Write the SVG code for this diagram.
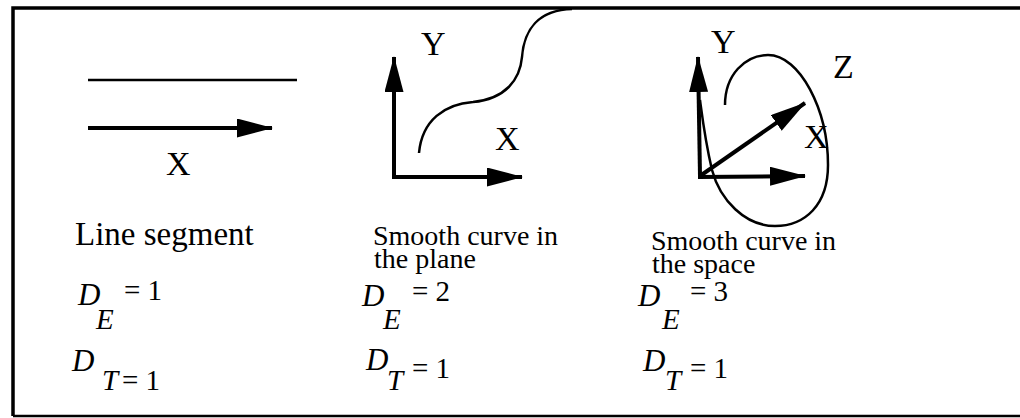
<svg xmlns="http://www.w3.org/2000/svg" width="1020" height="418" viewBox="0 0 1020 418">
<defs>
<marker id="ah" markerUnits="userSpaceOnUse" markerWidth="36" markerHeight="20" refX="35" refY="9.5" orient="auto">
<path d="M0,0 L36,9.5 L0,19 Z" fill="#000"/>
</marker>
</defs>
<style>
.ln{stroke:#000;stroke-width:4;fill:none}
.thin{stroke:#000;stroke-width:2.5;fill:none}
.bd{stroke:#000;stroke-width:3.5;fill:none}
.t{font-family:"Liberation Serif","Times New Roman",serif;fill:#000}
.lab{font-size:34px}
.cap{font-size:28px}
.big{font-size:33px}
.m{font-size:31px;font-style:italic}
.s{font-size:29px;font-style:italic}
.n{font-size:29px}
</style>
<rect width="1020" height="418" fill="#fff"/>
<g id="frame">
<path d="M13,416 L13,8 L1020,8" class="bd"/>
<path d="M13,416 L1020,416" class="thin"/>
</g>
<g id="connectors">
<path d="M88,80 L297,80" class="thin"/>
<path d="M88,128 L272,128" class="ln" marker-end="url(#ah)"/>
<path d="M394,177 L394,57" class="ln" marker-end="url(#ah)"/>
<path d="M392,177 L522,177" class="ln" marker-end="url(#ah)"/>
<path d="M419,153 C422,120 445,104 473,102 C505,99 520,80 522,57 C524,30 538,10 572,9" class="thin"/>
<path d="M700,176 L698,57" class="ln" marker-end="url(#ah)"/>
<path d="M698,177 L805,176" class="ln" marker-end="url(#ah)"/>
<path d="M700,176 L805,103" class="ln" marker-end="url(#ah)"/>
<path d="M725,105 C725,75 745,55 768,55 C800,55 828,110 828,165 C828,205 805,226 775,226 C745,226 720,200 712,170 C705,140 702,115 700,100" class="thin"/>
</g>
<g id="line-segment">
<text class="t lab" x="166" y="175">X</text>
<text class="t big" x="75" y="245">Line segment</text>
<text class="t m" x="78" y="305">D</text><text class="t s" x="96" y="329">E</text><text class="t n" x="124" y="300">= 1</text>
<text class="t m" x="72" y="371">D</text><text class="t s" x="102" y="390">T</text><text class="t n" x="122" y="390">= 1</text>
</g>
<g id="plane-curve">
<text class="t lab" x="421" y="55">Y</text>
<text class="t lab" x="495" y="150">X</text>
<text class="t cap" x="373" y="245">Smooth curve in</text>
<text class="t cap" x="374" y="268">the plane</text>
<text class="t m" x="362" y="306">D</text><text class="t s" x="383" y="329">E</text><text class="t n" x="412" y="301">= 2</text>
<text class="t m" x="366" y="370">D</text><text class="t s" x="387" y="390">T</text><text class="t n" x="412" y="378">= 1</text>
</g>
<g id="space-curve">
<text class="t lab" x="711" y="53">Y</text>
<text class="t lab" x="833" y="78">Z</text>
<text class="t lab" x="804" y="148">X</text>
<text class="t cap" x="651" y="250">Smooth curve in</text>
<text class="t cap" x="652" y="273">the space</text>
<text class="t m" x="638" y="306">D</text><text class="t s" x="662" y="329">E</text><text class="t n" x="690" y="301">= 3</text>
<text class="t m" x="643" y="371">D</text><text class="t s" x="665" y="390">T</text><text class="t n" x="690" y="378">= 1</text>
</g>
</svg>
